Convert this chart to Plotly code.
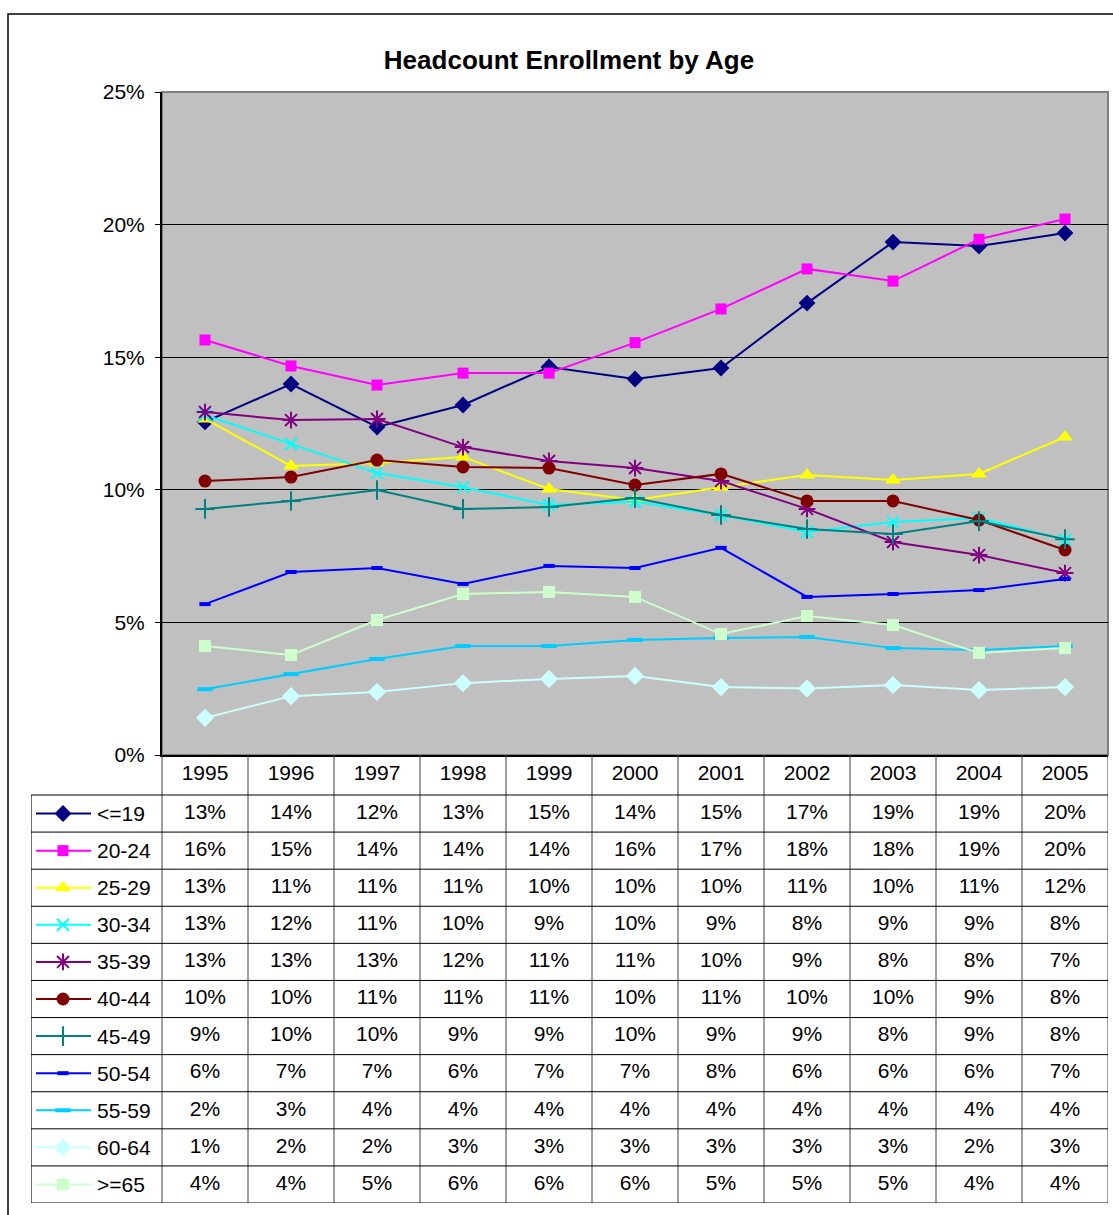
import plotly.graph_objects as go

# ---------------- data (percent) ----------------
years = [1995, 1996, 1997, 1998, 1999, 2000, 2001, 2002, 2003, 2004, 2005]

age_le19 = [12.56, 13.99, 12.37, 13.2, 14.63, 14.18, 14.59, 17.04, 19.34, 19.19, 19.68]
age_20_24 = [15.65, 14.67, 13.95, 14.4, 14.4, 15.55, 16.82, 18.33, 17.87, 19.45, 20.21]
age_25_29 = [12.67, 10.9, 11.01, 11.24, 10.03, 9.62, 10.1, 10.56, 10.37, 10.6, 11.99]
age_30_34 = [12.82, 11.73, 10.63, 10.1, 9.43, 9.55, 9.05, 8.41, 8.79, 8.94, 8.11]
age_35_39 = [12.93, 12.63, 12.67, 11.61, 11.09, 10.82, 10.33, 9.28, 8.03, 7.54, 6.86]
age_40_44 = [10.33, 10.48, 11.12, 10.86, 10.82, 10.18, 10.6, 9.58, 9.58, 8.86, 7.73]
age_45_49 = [9.28, 9.58, 9.99, 9.28, 9.35, 9.69, 9.05, 8.52, 8.33, 8.82, 8.14]
age_50_54 = [5.69, 6.9, 7.05, 6.45, 7.13, 7.05, 7.81, 5.96, 6.07, 6.22, 6.64]
age_55_59 = [2.48, 3.05, 3.62, 4.11, 4.11, 4.34, 4.41, 4.45, 4.03, 3.96, 4.11]
age_60_64 = [1.4, 2.22, 2.38, 2.71, 2.87, 2.98, 2.56, 2.51, 2.64, 2.45, 2.56]
age_ge65 = [4.11, 3.77, 5.09, 6.07, 6.15, 5.96, 4.56, 5.24, 4.9, 3.85, 4.03]

series_names = ["<=19", "20-24", "25-29", "30-34", "35-39", "40-44",
                "45-49", "50-54", "55-59", "60-64", ">=65"]
series_values = [age_le19, age_20_24, age_25_29, age_30_34, age_35_39, age_40_44,
                 age_45_49, age_50_54, age_55_59, age_60_64, age_ge65]

y_ticks = [0, 0.05, 0.10, 0.15, 0.20, 0.25]

# ---------------- styles ----------------
styles = [
    ("#000080", "diamond", 13, 0),
    ("#FF00FF", "square", 11, 0),
    ("#FFFF00", "triangle-up", 14, 0),
    ("#00FFFF", "x-thin-open", 12, 2),
    ("#800080", "asterisk-open", 14, 2),
    ("#800000", "circle", 13, 0),
    ("#008080", "cross-thin-open", 14, 2),
    ("#0000FF", "line-ew-open", 8, 4),
    ("#00CCFF", "line-ew-open", 11, 4),
    ("#CCFFFF", "diamond", 14, 0),
    ("#CCFFCC", "square", 12, 0),
]

W, H = 1113, 1215
FONT = "Liberation Sans, Arial, sans-serif"
FS = 21

# layout geometry (pixels)
plot_l, plot_r, plot_t, plot_b = 162, 1108, 92, 755
tab_l, tab_b, tab_hdr = 31, 1203, 795
ncol = len(years)
colw = (plot_r - plot_l) / ncol
row_h = (tab_b - tab_hdr) / len(series_names)
hdr_rows = (tab_hdr - plot_b) / row_h
x2_min = years[0] - 0.5 - (plot_l - tab_l) / colw
x2_max = years[-1] + 0.5


def x2_of(px):
    return x2_min + (px - tab_l) / colw


fig = go.Figure()

# main chart lines
for name, vals, (col, sym, size, lw) in zip(series_names, series_values, styles):
    fig.add_trace(go.Scatter(
        x=years, y=[v / 100 for v in vals], mode="lines+markers", name=name,
        line=dict(color=col, width=2),
        marker=dict(symbol=sym, size=size, color=col,
                    line=dict(color=col, width=lw)),
        xaxis="x", yaxis="y", showlegend=False, hoverinfo="x+y+name",
    ))

# table header
fig.add_trace(go.Scatter(
    x=years, y=[-hdr_rows / 2] * ncol, mode="text", text=[str(y) for y in years],
    textfont=dict(family=FONT, size=FS, color="black"),
    xaxis="x2", yaxis="y2", showlegend=False, hoverinfo="skip",
))

annotations = []
# table rows
for i, (name, vals, (col, sym, size, lw)) in enumerate(zip(series_names, series_values, styles)):
    yc = i + 0.5
    fig.add_trace(go.Scatter(
        x=years, y=[yc] * ncol, mode="text", text=[f"{round(v)}%" for v in vals],
        textfont=dict(family=FONT, size=FS, color="black"),
        xaxis="x2", yaxis="y2", showlegend=False, hoverinfo="skip",
    ))
    fig.add_trace(go.Scatter(
        x=[x2_of(36), x2_of(91)], y=[yc, yc], mode="lines",
        line=dict(color=col, width=2),
        xaxis="x2", yaxis="y2", showlegend=False, hoverinfo="skip",
    ))
    fig.add_trace(go.Scatter(
        x=[x2_of(63)], y=[yc], mode="markers",
        marker=dict(symbol=sym, size=size, color=col, line=dict(color=col, width=lw)),
        xaxis="x2", yaxis="y2", showlegend=False, hoverinfo="skip",
    ))
    annotations.append(dict(
        x=x2_of(95), y=yc, xref="x2", yref="y2", text=name, showarrow=False,
        xanchor="left", yanchor="middle", font=dict(family=FONT, size=FS, color="black"),
    ))

shapes = []
# plot area background + border
shapes.append(dict(type="rect", xref="x domain", yref="y domain", x0=0, x1=1, y0=0, y1=1,
                   fillcolor="#C0C0C0", line=dict(color="#808080", width=2), layer="below"))
# table grid lines
nrows = len(series_names)
for k in range(ncol + 1):
    xb = years[0] - 0.5 + k
    shapes.append(dict(type="line", xref="x2", yref="y2", x0=xb, x1=xb, y0=-hdr_rows, y1=nrows,
                       line=dict(color="#404040", width=1)))
shapes.append(dict(type="line", xref="x2", yref="y2", x0=x2_min, x1=x2_min, y0=0, y1=nrows,
                   line=dict(color="#404040", width=1.5)))
for r in range(nrows + 1):
    shapes.append(dict(type="line", xref="x2", yref="y2", x0=x2_min, x1=x2_max, y0=r, y1=r,
                       line=dict(color="black", width=1)))
# outer chart border
shapes.append(dict(type="rect", xref="paper", yref="paper",
                   x0=8 / W, x1=1.2, y0=-0.2, y1=1 - 14 / H,
                   line=dict(color="black", width=1.5), fillcolor="rgba(0,0,0,0)"))

fig.update_layout(
    width=W, height=H,
    margin=dict(l=0, r=0, t=0, b=0, pad=0, autoexpand=False),
    paper_bgcolor="white", plot_bgcolor="rgba(0,0,0,0)",
    font=dict(family=FONT, size=FS, color="black"),
    title=dict(text="<b>Headcount Enrollment by Age</b>", x=569 / W, xanchor="center",
               y=1 - 60 / H, yanchor="middle", automargin=False,
               font=dict(family=FONT, size=26, color="black")),
    xaxis=dict(domain=[plot_l / W, plot_r / W], range=[years[0] - 0.5, years[-1] + 0.5],
               showgrid=False, zeroline=False, showticklabels=False, ticks="",
               showline=True, linecolor="black", linewidth=2, mirror=False, anchor="y",
               automargin=False),
    yaxis=dict(domain=[1 - plot_b / H, 1 - plot_t / H], range=[0, 0.25],
               tickvals=y_ticks, tickformat=".0%", ticks="outside", ticklen=5,
               tickcolor="black", showgrid=True, gridcolor="black", gridwidth=1,
               zeroline=False, showline=True, linecolor="black", linewidth=2,
               tickfont=dict(family=FONT, size=FS, color="black"), anchor="x",
               ticklabelstandoff=6, automargin=False),
    xaxis2=dict(domain=[tab_l / W, plot_r / W], range=[x2_min, x2_max], visible=False,
                anchor="y2", automargin=False),
    yaxis2=dict(domain=[1 - tab_b / H, 1 - plot_b / H], range=[nrows, -hdr_rows],
                visible=False, anchor="x2", automargin=False),
    shapes=shapes,
    annotations=annotations,
    hovermode="closest",
)

fig.write_html(
    "out.html",
    config={"displayModeBar": False},
    post_script=("document.body.style.margin='0';document.body.style.padding='0';"
                 "document.body.style.overflow='hidden';"
                 "document.documentElement.style.overflow='hidden';"),
)
